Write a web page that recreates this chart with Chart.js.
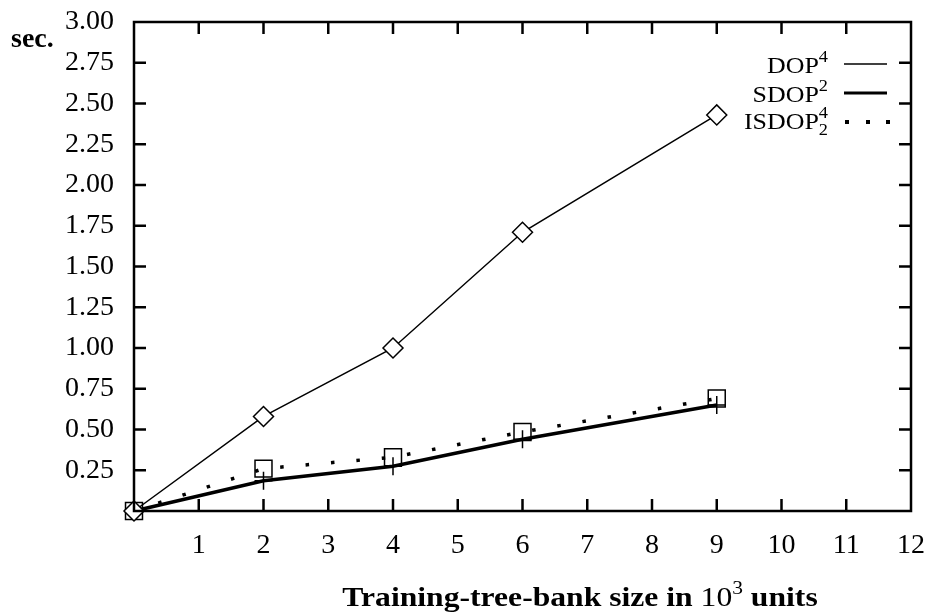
<!DOCTYPE html>
<html>
<head>
<meta charset="utf-8">
<script src="https://cdn.jsdelivr.net/npm/chart.js@4/dist/chart.umd.min.js"></script>
<style>
  body { margin: 0; background: #fff; }
  canvas { display: block; }
</style>
</head>
<body>
<canvas id="timeChart" width="931" height="613"></canvas>
<script>
// tamaño del treebank (10^3 unidades) y segundos por frase
const treebankSizes = [0, 2, 4, 6, 9];
const dop4Secs = [0, 0.58, 1.0, 1.71, 2.43];
const sdop2Secs = [0, 0.185, 0.275, 0.44, 0.65];
const isdopSecs = [0, 0.26, 0.33, 0.485, 0.69];
const xTickValues = [1, 2, 3, 4, 5, 6, 7, 8, 9, 10, 11];
const yTickValues = [0.25, 0.5, 0.75, 1, 1.25, 1.5, 1.75, 2, 2.25, 2.5, 2.75];

const serif = '"Liberation Serif", "DejaVu Serif", serif';
const toPoints = ys => treebankSizes.map((x, i) => ({ x: x, y: ys[i] }));

// texto con super/subíndices, con estiramiento horizontal sx
function drawParts(ctx, parts, x, y, align, sx) {
    sx = sx || 1;
    let total = 0;
    parts.forEach(p => { ctx.font = p.font; p.w = ctx.measureText(p.t).width; if (!p.stack) total += p.w; });
    let cx = align === 'right' ? -total : (align === 'center' ? -total / 2 : 0);
    let last = 0;
    ctx.save();
    ctx.translate(x, y);
    ctx.scale(sx, 1);
    ctx.textAlign = 'left';
    ctx.textBaseline = 'alphabetic';
    parts.forEach(p => {
        ctx.font = p.font;
        if (p.stack) { ctx.fillText(p.t, cx - last, p.dy || 0); return; }
        ctx.fillText(p.t, cx, p.dy || 0);
        cx += p.w; last = p.w;
    });
    ctx.restore();
}

const framePlugin = {
    id: 'framePlugin',
    afterDraw(chart) {
        const { ctx, chartArea: a, scales: { x, y } } = chart;
        ctx.save();
        ctx.strokeStyle = '#000';
        ctx.lineWidth = 2.5;
        ctx.strokeRect(a.left, a.top, a.right - a.left, a.bottom - a.top);
        // marcas hacia adentro
        ctx.beginPath();
        xTickValues.forEach(v => {
            const px = x.getPixelForValue(v);
            ctx.moveTo(px, a.bottom); ctx.lineTo(px, a.bottom - 12);
            ctx.moveTo(px, a.top); ctx.lineTo(px, a.top + 12);
        });
        yTickValues.forEach(v => {
            const py = y.getPixelForValue(v);
            ctx.moveTo(a.left, py); ctx.lineTo(a.left + 12, py);
            ctx.moveTo(a.right, py); ctx.lineTo(a.right - 12, py);
        });
        ctx.stroke();

        // leyenda
        ctx.fillStyle = '#000';
        const rm = '24px ' + serif, sm = '17px ' + serif;
        drawParts(ctx, [{ t: 'DOP', font: rm }, { t: '4', font: sm, dy: -11 }], 828, 73, 'right', 1.08);
        drawParts(ctx, [{ t: 'SDOP', font: rm }, { t: '2', font: sm, dy: -11 }], 828, 102, 'right', 1.08);
        drawParts(ctx, [{ t: 'ISDOP', font: rm }, { t: '2', font: sm, dy: 6 }, { t: '4', font: sm, dy: -11, stack: true }], 828, 129, 'right', 1.08);
        ctx.lineCap = 'butt';
        ctx.lineWidth = 1.5;
        ctx.beginPath(); ctx.moveTo(844, 64); ctx.lineTo(887, 64); ctx.stroke();
        ctx.lineWidth = 3;
        ctx.beginPath(); ctx.moveTo(844, 93); ctx.lineTo(887, 93); ctx.stroke();
        [847, 868, 888].forEach(px => ctx.fillRect(px - 2, 120, 4, 4));

        // títulos de ejes
        ctx.font = 'bold 28px "Liberation Serif", serif';
        ctx.textAlign = 'left';
        ctx.textBaseline = 'alphabetic';
        ctx.fillText('sec.', 11, 47);
        const bf = 'bold 28px "Liberation Serif", serif';
        drawParts(ctx, [
            { t: 'Training-tree-bank size in ', font: bf },
            { t: '10', font: '28px ' + serif },
            { t: '3', font: '19px ' + serif, dy: -12 },
            { t: ' units', font: bf }
        ], 580, 606, 'center', 1.13);
        ctx.restore();
    }
};

new Chart(document.getElementById('timeChart').getContext('2d'), {
    type: 'scatter',
    data: {
        datasets: [
            {
                label: 'DOP4',
                data: toPoints(dop4Secs),
                showLine: true,
                borderColor: '#000',
                borderWidth: 1.5,
                pointStyle: 'rectRot',
                pointRadius: 10,
                pointBorderWidth: 1.5,
                pointBackgroundColor: '#fff',
                pointBorderColor: '#000',
                clip: false
            },
            {
                label: 'SDOP2',
                data: toPoints(sdop2Secs),
                showLine: true,
                borderColor: '#000',
                borderWidth: 3.5,
                pointStyle: 'cross',
                pointRadius: 9,
                pointBorderWidth: 1.5,
                pointBorderColor: '#000',
                clip: false
            },
            {
                label: 'ISDOP24',
                data: toPoints(isdopSecs),
                showLine: true,
                borderColor: '#000',
                borderWidth: 3.5,
                borderDash: [3.5, 22],
                pointStyle: 'rect',
                pointRadius: 12,
                pointBorderWidth: 1.5,
                pointBackgroundColor: 'rgba(0,0,0,0)',
                pointBorderColor: '#000',
                clip: false
            }
        ]
    },
    options: {
        responsive: false,
        animation: false,
        layout: { padding: { top: 22, right: 20, left: 0, bottom: 0 } },
        plugins: { legend: { display: false }, tooltip: { enabled: false } },
        scales: {
            x: {
                type: 'linear',
                min: 0, max: 12,
                grid: { display: false },
                border: { display: false },
                ticks: {
                    stepSize: 1,
                    padding: 10,
                    color: '#000',
                    font: { family: serif, size: 28 },
                    callback: v => v === 0 ? '' : v
                },
                afterFit: s => { s.height = 102; s.paddingLeft = 0; s.paddingRight = 0; }
            },
            y: {
                min: 0, max: 3,
                grid: { display: false },
                border: { display: false },
                ticks: {
                    stepSize: 0.25,
                    padding: 12,
                    color: '#000',
                    font: { family: serif, size: 28 },
                    callback: v => v === 0 ? '' : v.toFixed(2)
                },
                afterFit: s => { s.width = 134; s.paddingTop = 0; s.paddingBottom = 0; }
            }
        }
    },
    plugins: [framePlugin]
});
</script>
</body>
</html>
